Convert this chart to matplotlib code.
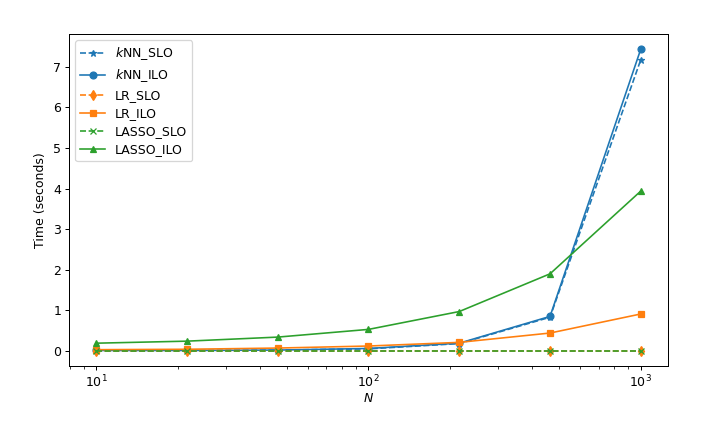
import numpy as np
import matplotlib
matplotlib.use('Agg')
import matplotlib.pyplot as plt

# problem sizes (log spaced)
N = [10, 21.54, 46.42, 100, 215.4, 464.2, 1000]

knn_slo = [0.01, 0.01, 0.02, 0.05, 0.18, 0.83, 7.18]
knn_ilo = [0.01, 0.01, 0.02, 0.06, 0.19, 0.85, 7.44]
lr_slo = [0.0, 0.0, 0.0, 0.0, 0.0, 0.0, 0.0]
lr_ilo = [0.03, 0.04, 0.07, 0.12, 0.21, 0.44, 0.91]
lasso_slo = [0.0, 0.0, 0.0, 0.0, 0.0, 0.0, 0.0]
lasso_ilo = [0.19, 0.24, 0.34, 0.53, 0.97, 1.90, 3.94]

DPI = 90
fig = plt.figure(figsize=(714 / DPI, 428 / DPI), dpi=DPI)
ax = fig.add_axes([0.0966, 0.1449, 0.839, 0.7757])

ax.plot(N, knn_slo, '--', marker='*', color='C0', lw=1.3, ms=5.5, label='$k$NN_SLO')
ax.plot(N, knn_ilo, '-', marker='o', color='C0', lw=1.3, ms=5.5, label='$k$NN_ILO')
ax.plot(N, lr_slo, '--', marker='d', color='C1', lw=1.3, ms=5.5, label='LR_SLO')
ax.plot(N, lr_ilo, '-', marker='s', color='C1', lw=1.3, ms=5.5, label='LR_ILO')
ax.plot(N, lasso_slo, '--', marker='x', color='C2', lw=1.3, ms=5.5, label='LASSO_SLO')
ax.plot(N, lasso_ilo, '-', marker='^', color='C2', lw=1.3, ms=5.5, label='LASSO_ILO')

ax.set_xscale('log')
ax.tick_params(pad=2.8)
ax.set_xlabel('$N$', labelpad=1.5)
ax.set_ylabel('Time (seconds)', labelpad=5)
ax.legend(loc='upper left', labelspacing=0.4)

fig.savefig('out.png', dpi=DPI)
